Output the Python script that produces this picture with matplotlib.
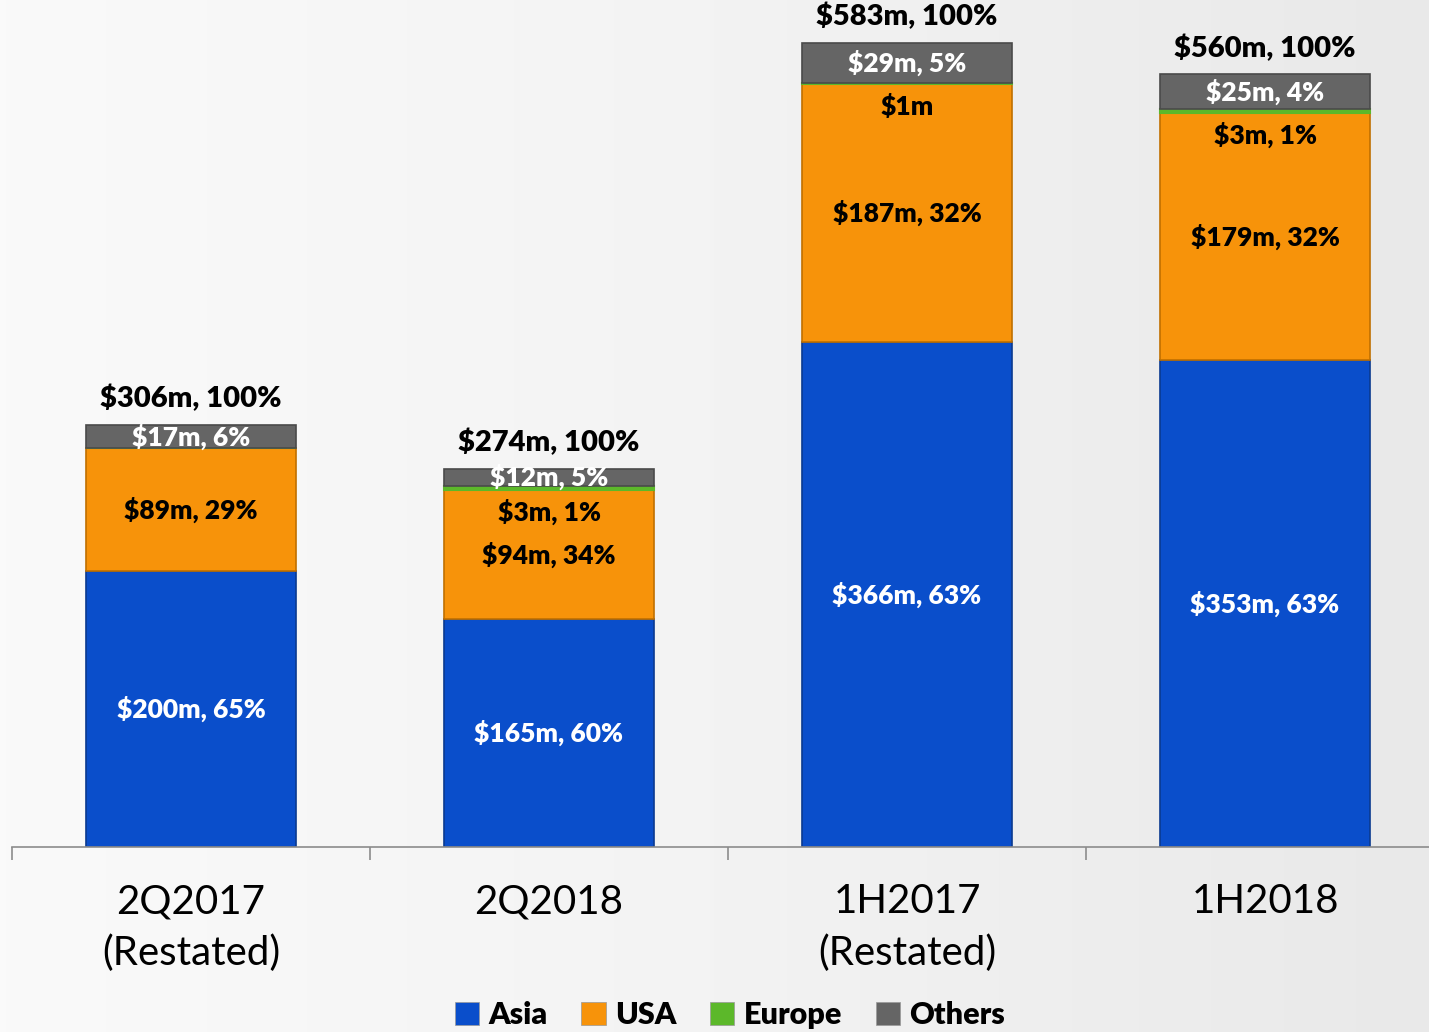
import numpy as np
import matplotlib.pyplot as plt

plt.rcParams['font.family'] = ['Lato', 'DejaVu Sans']

categories = ['2Q2017\n(Restated)', '2Q2018', '1H2017\n(Restated)', '1H2018']
asia = [200, 165, 366, 353]
usa = [89, 94, 187, 179]
europe = [0, 3, 1, 3]
others = [17, 12, 29, 25]
totals = [306, 274, 583, 560]

asia_lbl = ['$200m, 65%', '$165m, 60%', '$366m, 63%', '$353m, 63%']
usa_lbl = ['$89m, 29%', '$94m, 34%', '$187m, 32%', '$179m, 32%']
europe_lbl = ['', '$3m, 1%', '$1m', '$3m, 1%']
others_lbl = ['$17m, 6%', '$12m, 5%', '$29m, 5%', '$25m, 4%']
total_lbl = ['$306m, 100%', '$274m, 100%', '$583m, 100%', '$560m, 100%']

c_asia = '#0a4ecb'
c_usa = '#f7930a'
c_eur = '#5cb82a'
c_oth = '#656565'

fig = plt.figure(figsize=(14.29, 10.32), dpi=100)

# background gradient
bg = fig.add_axes([0, 0, 1, 1], zorder=-10)
grad = np.linspace(0, 1, 256)[None, :]
bg.imshow(grad, aspect='auto', cmap=plt.matplotlib.colors.LinearSegmentedColormap.from_list(
    'bg', ['#fafafa', '#f3f3f3', '#e9e9e9']), extent=[0, 1, 0, 1])
bg.axis('off')

ax = fig.add_axes([12 / 1429, 1 - 847 / 1032, 1432 / 1429, 847 / 1032])
ax.patch.set_alpha(0)
x = np.arange(len(categories))
w = 0.584

b1 = np.array(asia)
b2 = b1 + np.array(usa)
b3 = b2 + np.array(europe)

ax.bar(x, asia, w, color=c_asia, edgecolor='#0a3a90', linewidth=1.2)
ax.bar(x, usa, w, bottom=b1, color=c_usa, edgecolor='#c07000', linewidth=1.2)
ax.bar(x, europe, w, bottom=b2, color=c_eur, edgecolor=c_eur, linewidth=1.5)
ax.bar(x, others, w, bottom=b3, color=c_oth, edgecolor='#4a4a4a', linewidth=1.2)

fs = 19
wt = 'heavy'
for i in range(len(x)):
    ax.text(x[i], asia[i] / 2, asia_lbl[i], ha='center', va='center',
            color='white', fontsize=fs, fontweight=wt)
    ax.text(x[i], b1[i] + usa[i] / 2, usa_lbl[i], ha='center', va='center',
            color='black', fontsize=fs, fontweight=wt)
    if europe_lbl[i]:
        ax.annotate(europe_lbl[i], (x[i], b2[i]), xytext=(0, -16),
                    textcoords='offset points', ha='center', va='center',
                    color='black', fontsize=fs, fontweight=wt)
    ax.text(x[i], b3[i] + others[i] / 2, others_lbl[i], ha='center', va='center',
            color='white', fontsize=fs, fontweight=wt)
    ax.annotate(total_lbl[i], (x[i], totals[i]), xytext=(0, 19),
                textcoords='offset points', ha='center', va='center',
                color='black', fontsize=21, fontweight=wt)

ax.set_xlim(-0.5, 3.5)
ax.set_ylim(0, 614)
for s in ['top', 'right', 'left']:
    ax.spines[s].set_visible(False)
ax.spines['bottom'].set_color('#8c8c8c')
ax.spines['bottom'].set_linewidth(1.2)
ax.set_yticks([])
ax.set_xticks([-0.5, 0.5, 1.5, 2.5], minor=False)
ax.set_xticklabels([])
ax.tick_params(axis='x', direction='out', length=9, width=1.2, color='#8c8c8c')
ax.set_xticks(x, minor=True)
ax.set_xticklabels(categories, minor=True, fontsize=29, linespacing=1.45)
ax.tick_params(axis='x', which='minor', length=0, pad=26)

handles = [plt.Rectangle((0, 0), 1, 1, facecolor=c, edgecolor='#999999', linewidth=0.5)
           for c in [c_asia, c_usa, c_eur, c_oth]]
fig.legend(handles, ['Asia', 'USA', 'Europe', 'Others'], loc='center',
           bbox_to_anchor=(730 / 1429, 1 - 1015 / 1032), ncol=4, frameon=False,
           prop={'size': 22, 'weight': 'heavy'}, handlelength=0.8, handleheight=0.8,
           handletextpad=0.3, columnspacing=1.1)

fig.savefig('out.png', dpi=100)
